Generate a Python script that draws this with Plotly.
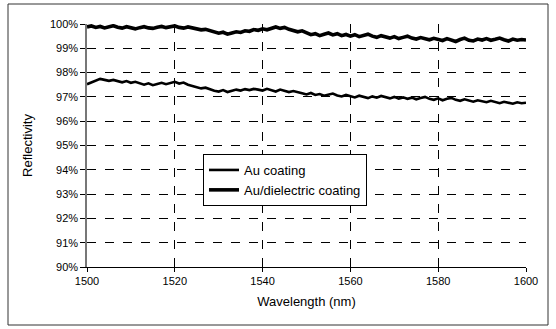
import plotly.graph_objects as go

wavelength = list(range(1500, 1601))

au_dielectric = [
    99.88, 99.92, 99.86, 99.90, 99.84, 99.88, 99.93, 99.87, 99.83, 99.89,
    99.86, 99.80, 99.85, 99.89, 99.84, 99.82, 99.87, 99.90, 99.85, 99.88,
    99.92, 99.86, 99.83, 99.88, 99.84, 99.80, 99.76, 99.78, 99.72, 99.66,
    99.62, 99.66, 99.58, 99.63, 99.68, 99.65, 99.72, 99.70, 99.77, 99.74,
    99.80, 99.76, 99.83, 99.88, 99.82, 99.86, 99.78, 99.74, 99.68, 99.72,
    99.62, 99.56, 99.60, 99.52, 99.58, 99.63, 99.55, 99.60, 99.52, 99.57,
    99.50, 99.56, 99.48, 99.53, 99.58, 99.50, 99.45, 99.52, 99.47, 99.42,
    99.48, 99.40, 99.45, 99.50, 99.42, 99.38, 99.44, 99.40, 99.35, 99.41,
    99.37, 99.32, 99.40, 99.34, 99.28, 99.36, 99.42, 99.33, 99.30, 99.38,
    99.34, 99.40, 99.33, 99.37, 99.42, 99.35, 99.30, 99.38, 99.33, 99.36,
    99.34,
]

au_coating = [
    97.52, 97.60, 97.68, 97.74, 97.70, 97.66, 97.70, 97.64, 97.60, 97.65,
    97.58, 97.62, 97.55, 97.50, 97.56, 97.48, 97.53, 97.58, 97.52, 97.57,
    97.62, 97.55, 97.59, 97.50, 97.46, 97.40, 97.35, 97.38, 97.30, 97.25,
    97.22, 97.28, 97.20, 97.24, 97.30, 97.26, 97.32, 97.28, 97.33, 97.30,
    97.26, 97.33, 97.28, 97.22, 97.30, 97.25, 97.20, 97.24, 97.18, 97.15,
    97.10, 97.16, 97.08, 97.12, 97.05, 97.10, 97.14, 97.06, 97.02, 97.08,
    97.03, 96.98, 97.05, 97.00, 96.95, 97.02, 96.97, 97.04, 96.98, 96.94,
    97.00, 96.93, 96.98, 96.92, 96.97, 96.90, 96.95, 97.00, 96.92, 96.88,
    96.94, 96.86, 96.92, 96.96, 96.88, 96.84, 96.90, 96.85, 96.80, 96.86,
    96.82, 96.78, 96.84, 96.79, 96.74, 96.80, 96.76, 96.72, 96.78, 96.74,
    96.76,
]

x_ticks = [1500, 1520, 1540, 1560, 1580, 1600]
y_ticks = [90, 91, 92, 93, 94, 95, 96, 97, 98, 99, 100]
y_tick_labels = [f"{v}%" for v in y_ticks]

fig = go.Figure()
fig.add_trace(go.Scatter(x=wavelength, y=au_coating, mode="lines",
                         name="Au coating", line=dict(color="black", width=2.6)))
fig.add_trace(go.Scatter(x=wavelength, y=au_dielectric, mode="lines",
                         name="Au/dielectric coating", line=dict(color="black", width=3.6)))

font = dict(family="Liberation Sans, Arial, sans-serif", size=11, color="black")

fig.update_layout(
    width=556, height=329,
    margin=dict(l=87, r=30, t=24, b=62),
    paper_bgcolor="white", plot_bgcolor="white",
    font=font,
    showlegend=True,
    legend=dict(x=(203 - 87) / 439, y=(267 - 154) / 243, xanchor="left", yanchor="top",
                bgcolor="white", bordercolor="black", borderwidth=1,
                font=dict(family="Liberation Sans, Arial, sans-serif", size=13, color="black"),
                itemwidth=30, tracegroupgap=2),
    xaxis=dict(range=[1500, 1600], tickvals=x_ticks, ticks="outside", ticklen=4,
               tickcolor="black", showline=True, linecolor="black", linewidth=1,
               showgrid=True, gridcolor="black", griddash="dash", gridwidth=1,
               zeroline=False, title=dict(text="Wavelength (nm)", standoff=10),
               tickfont=font),
    yaxis=dict(range=[90, 100], tickvals=y_ticks, ticktext=y_tick_labels,
               ticks="outside", ticklen=5, tickcolor="black",
               showline=True, linecolor="#777777", linewidth=1.5,
               showgrid=True, gridcolor="black", griddash="dash", gridwidth=1,
               zeroline=False, title=dict(text="Reflectivity", standoff=14),
               tickfont=font),
)

fig.add_shape(type="rect", xref="paper", yref="paper",
              x0=(8 - 87) / 439, x1=(548 - 87) / 439,
              y0=(267 - 325) / 243, y1=(267 - 4) / 243,
              line=dict(color="#333333", width=1), layer="below")

fig.write_html("out.html", config={"displayModeBar": False},
               post_script="document.body.style.margin='0';")
